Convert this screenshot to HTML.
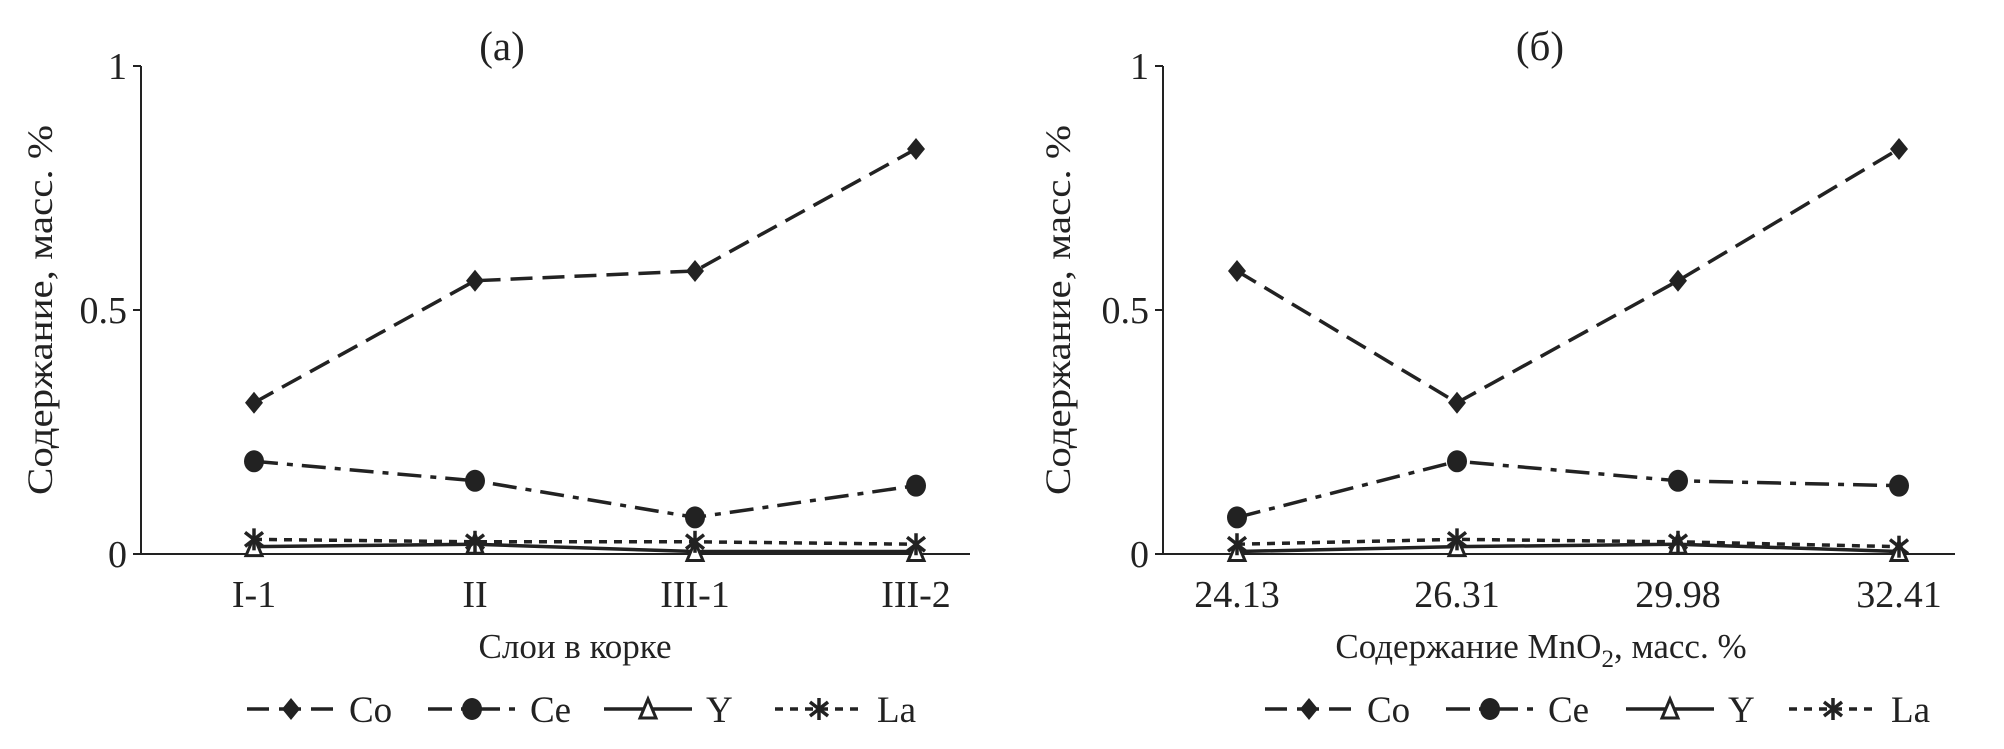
<!DOCTYPE html>
<html><head><meta charset="utf-8"><style>
html,body{margin:0;padding:0;background:#fff;}
svg{display:block;}
text{font-family:"Liberation Serif",serif;fill:#222;}
</style></head><body>
<svg id="chart" width="2004" height="749" viewBox="0 0 2004 749" xmlns="http://www.w3.org/2000/svg"></svg>
<script>
const catsA = ["I-1","II","III-1","III-2"];
const catsB = ["24.13","26.31","29.98","32.41"];
const coA = [0.31,0.56,0.58,0.83];
const ceA = [0.19,0.15,0.075,0.14];
const yA  = [0.015,0.02,0.005,0.005];
const laA = [0.03,0.025,0.025,0.02];
const coB = [0.58,0.31,0.56,0.83];
const ceB = [0.075,0.19,0.15,0.14];
const yB  = [0.005,0.015,0.02,0.005];
const laB = [0.02,0.03,0.025,0.015];
const yTicks = [0,0.5,1];
const yTickLabels = ["0","0.5","1"];
const seriesNames = ["Co","Ce","Y","La"];

const NS="http://www.w3.org/2000/svg";
const svg=document.getElementById('chart');
function mk(tag,attrs,parent){const e=document.createElementNS(NS,tag);for(const k in attrs)e.setAttribute(k,attrs[k]);(parent||svg).appendChild(e);return e;}
const dashes={Co:"22,10",Ce:"24,9,6,9",Y:"",La:"8,7"};

function marker(g,name,x,y){
  let m;
  if(name==="Co"){m=mk('polygon',{points:`${x},${y-11} ${x+9},${y} ${x},${y+11} ${x-9},${y}`,fill:'#222'},g);}
  else if(name==="Ce"){m=mk('ellipse',{cx:x,cy:y,rx:10,ry:11,fill:'#222'},g);}
  else if(name==="Y"){m=mk('polygon',{points:`${x},${y-10} ${x+8},${y+9} ${x-8},${y+9}`,fill:'#fff',stroke:'#222','stroke-width':3},g);}
  else {m=mk('g',{stroke:'#222','stroke-width':3.5},g);
    mk('line',{x1:x,y1:y-11,x2:x,y2:y+11},m);mk('line',{x1:x-9,y1:y-7,x2:x+9,y2:y+7},m);mk('line',{x1:x-9,y1:y+7,x2:x+9,y2:y-7},m);}
  
  
}

function panel(p){
  const g=mk('g',{});
  
  
  const xs=i=>p.x0+p.catX[i];
  const ys=v=>p.y0-(p.y0-p.y1)*v;
  const t=mk('text',{x:p.titleX,y:60,'font-size':41,'text-anchor':'middle'},g);t.textContent=p.title;
  
  const ax=mk('line',{x1:p.x0,y1:ys(1),x2:p.x0,y2:p.y0,stroke:'#222','stroke-width':2},g);
  
  const bx=mk('line',{x1:p.x0,y1:p.y0,x2:p.xEnd,y2:p.y0,stroke:'#222','stroke-width':2},g);
  
  yTicks.forEach((v,i)=>{
    mk('line',{x1:p.x0-8,y1:ys(v),x2:p.x0,y2:ys(v),stroke:'#222','stroke-width':2},g);
    const tl=mk('text',{x:p.x0-14,y:ys(v)+13,'font-size':38,'text-anchor':'end'},g);tl.textContent=yTickLabels[i];
    
  });
  p.cats.forEach((c,i)=>{
    const tl=mk('text',{x:xs(i),y:607,'font-size':38,'text-anchor':'middle'},g);tl.textContent=c;
    
  });
  const xl=mk('text',{x:p.xlabelX,y:658,'font-size':35,'text-anchor':'middle'},g);
  xl.innerHTML=p.xlabel;
  
  const yl=mk('text',{x:0,y:0,'font-size':36,'text-anchor':'middle',textLength:370,lengthAdjust:'spacingAndGlyphs',transform:`translate(${p.ylabX},${(p.y0+ys(1))/2}) rotate(-90)`},g);
  yl.textContent="Содержание, масс. %";
  
  const data={Co:p.co,Ce:p.ce,Y:p.yv,La:p.la};
  ["Y","La","Ce","Co"].forEach(n=>{
    const pts=data[n].map((v,i)=>`${xs(i)},${ys(v)}`).join(' ');
    const l=mk('polyline',{points:pts,fill:'none',stroke:'#222','stroke-width':3.5,'stroke-dasharray':dashes[n]},g);
    
    data[n].forEach((v,i)=>marker(g,n,xs(i),ys(v)));
  });
  seriesNames.forEach((n,i)=>{
    const lg=mk('g',{},g);
    
    const L=p.legend[i], ly=709;
    mk('line',{x1:L[0],y1:ly,x2:L[0]+88,y2:ly,stroke:'#222','stroke-width':3.5,'stroke-dasharray':dashes[n]},lg);
    marker(lg,n,L[0]+44,ly);
    const tt=mk('text',{x:L[0]+102,y:ly+13,'font-size':37},lg);tt.textContent=n;
  });
}
panel({id:'panel-a',title:'(а)',titleX:502,x0:141,xEnd:970,y0:554,y1:66,ylabX:52,catX:[113,334,554,775],cats:catsA,
  co:coA,ce:ceA,yv:yA,la:laA,xlabel:'Слои в корке',xlabelX:575,legend:[[247],[428],[604],[775]]});
panel({id:'panel-b',title:'(б)',titleX:1540,x0:1163,xEnd:1955,y0:554,y1:66,ylabX:1070,catX:[74,294,515,736],cats:catsB,
  co:coB,ce:ceB,yv:yB,la:laB,xlabel:'Содержание MnO<tspan font-size="25" dy="9">2</tspan><tspan dy="-9">, масс. %</tspan>',xlabelX:1541,legend:[[1265],[1446],[1626],[1789]]});
</script>
</body></html>
